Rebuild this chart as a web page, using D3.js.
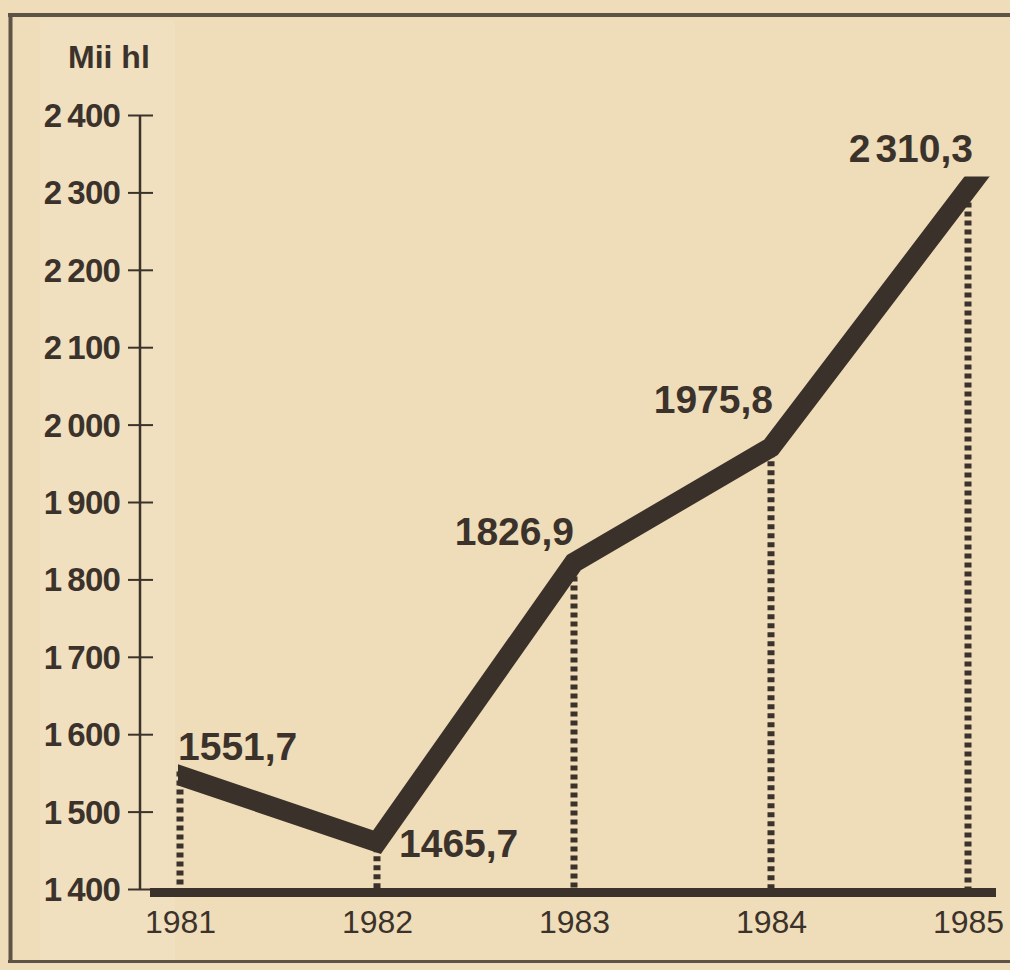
<!DOCTYPE html>
<html>
<head>
<meta charset="utf-8">
<script src="https://cdn.jsdelivr.net/npm/d3@7"></script>
<style>
  html, body { margin: 0; padding: 0; background: #efdcb8; }
  svg { display: block; }
  text { font-family: "Liberation Sans", Arial, Helvetica, sans-serif; fill: #3b332b; }
</style>
</head>
<body>
<div id="chart"></div>
<script>
// data
var years = [1981, 1982, 1983, 1984, 1985];
var values = [1551.7, 1465.7, 1826.9, 1975.8, 2310.3];
var valueLabels = ["1551,7", "1465,7", "1826,9", "1975,8", "2 310,3"];
var yTicks = [1400, 1500, 1600, 1700, 1800, 1900, 2000, 2100, 2200, 2300, 2400];
var unitLabel = "Mii hl";

// label placement (dx, dy from point, anchor)
var labelPlace = [
    {dx: -2, dy: -12, anchor: "start"},
    {dx: 22, dy: 19, anchor: "start"},
    {dx: 0, dy: -14, anchor: "end"},
    {dx: 2, dy: -30, anchor: "end"},
    {dx: 5, dy: -22, anchor: "end"}
];

var W = 1010, H = 970;
var ink = "#3b332b";

var svg = d3.select("#chart").append("svg")
    .attr("width", W)
    .attr("height", H);

// paper
svg.append("rect").attr("width", W).attr("height", H).attr("fill", "#efdcb8");
svg.append("rect").attr("x", 40).attr("y", 20).attr("width", 135).attr("height", 940)
    .attr("fill", "#f2e2c3").attr("opacity", 0.6);

// frame
var frame = svg.append("g").attr("stroke", "#5d5347").attr("fill", "none");
frame.append("line").attr("x1", 8).attr("x2", W).attr("y1", 15).attr("y2", 15).attr("stroke-width", 4);
frame.append("line").attr("x1", 10.5).attr("x2", 10.5).attr("y1", 13).attr("y2", 963).attr("stroke-width", 4);
frame.append("line").attr("x1", 8).attr("x2", W).attr("y1", 961.5).attr("y2", 961.5).attr("stroke-width", 3);

var x = d3.scaleLinear().domain([1981, 1985]).range([180, 968]);
var y = d3.scaleLinear().domain([1400, 2400]).range([889, 115]);

// puts a small gap after the first group of digits, like the print
function gapText(sel, txt, gap) {
    var parts = txt.split(" ");
    sel.text(null);
    sel.append("tspan").text(parts[0]);
    if (parts.length > 1) sel.append("tspan").attr("dx", gap).text(parts[1]);
}

// y axis
var yAxis = d3.axisLeft(y)
    .tickValues(yTicks)
    .tickSize(0)
    .tickPadding(20)
    .tickFormat(function(d) {
        var s = String(d);
        return s[0] + " " + s.slice(1);
    });

var gy = svg.append("g")
    .attr("transform", "translate(140,0)")
    .call(yAxis);
gy.select(".domain").remove();
gy.selectAll(".tick text")
    .attr("fill", ink)
    .style("font-size", "33px")
    .style("font-weight", "bold")
    .style("letter-spacing", "-0.8px")
    .attr("dy", "0.35em")
    .each(function() {
        var t = d3.select(this);
        gapText(t, t.text(), 6);
    });

gy.selectAll(".tick").append("line")
    .attr("x1", -12).attr("x2", 13)
    .attr("stroke", ink).attr("stroke-width", 2);

gy.append("line")
    .attr("x1", 0).attr("x2", 0)
    .attr("y1", y(2400)).attr("y2", y(1400))
    .attr("stroke", ink).attr("stroke-width", 2.5);

svg.append("text")
    .attr("x", 68).attr("y", 68)
    .style("font-size", "32px")
    .style("font-weight", "bold")
    .text(unitLabel);

// dotted drop lines
svg.append("g").selectAll("line")
    .data(values)
    .enter()
    .append("line")
    .attr("x1", function(d, i) { return x(years[i]); })
    .attr("x2", function(d, i) { return x(years[i]); })
    .attr("y1", function(d) { return y(d); })
    .attr("y2", y(1400))
    .attr("stroke", ink)
    .attr("stroke-width", 7)
    .attr("stroke-dasharray", "5,4");

// x axis (thick bar)
svg.append("line")
    .attr("x1", 150).attr("x2", 996)
    .attr("y1", 892.5).attr("y2", 892.5)
    .attr("stroke", ink).attr("stroke-width", 9);

var xAxis = d3.axisBottom(x)
    .tickValues(years)
    .tickSize(0)
    .tickPadding(13)
    .tickFormat(d3.format("d"));

var gx = svg.append("g")
    .attr("transform", "translate(0,897)")
    .call(xAxis);
gx.select(".domain").remove();
gx.selectAll(".tick text")
    .attr("fill", ink)
    .style("font-size", "32px")
    .attr("dy", "0.71em");

// thick data line, ends cut square by a clip
var pts = values.map(function(d, i) { return [x(years[i]), y(d) + 4]; });
function extend(a, b, len) {
    var dx = a[0] - b[0], dy = a[1] - b[1];
    var l = Math.sqrt(dx * dx + dy * dy);
    return [a[0] + dx / l * len, a[1] + dy / l * len];
}
var n = pts.length;
var ext = [extend(pts[0], pts[1], 30)].concat(pts, [extend(pts[n - 1], pts[n - 2], 30)]);

svg.append("clipPath").attr("id", "lineclip")
    .append("rect")
    .attr("x", x(years[0]) - 2)
    .attr("y", y(d3.max(values)) - 8)
    .attr("width", x(years[n - 1]) - x(years[0]) + 40)
    .attr("height", y(1400) - y(d3.max(values)));

svg.append("path")
    .attr("clip-path", "url(#lineclip)")
    .attr("d", d3.line()(ext))
    .attr("fill", "none")
    .attr("stroke", "#3a322a")
    .attr("stroke-width", 20)
    .attr("stroke-linejoin", "miter")
    .attr("stroke-linecap", "butt");

// value labels
svg.append("g").selectAll("text")
    .data(values)
    .enter()
    .append("text")
    .attr("x", function(d, i) { return x(years[i]) + labelPlace[i].dx; })
    .attr("y", function(d, i) { return y(d) + labelPlace[i].dy; })
    .attr("text-anchor", function(d, i) { return labelPlace[i].anchor; })
    .style("font-size", "39px")
    .style("font-weight", "bold")
    .each(function(d, i) { gapText(d3.select(this), valueLabels[i], 5); });
</script>
</body>
</html>
